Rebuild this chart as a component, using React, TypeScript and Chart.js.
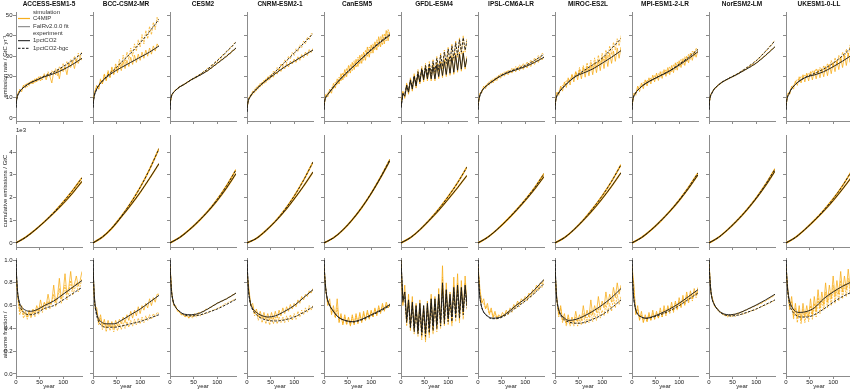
import React, { useEffect, useRef } from 'react';
import { Chart, registerables } from 'chart.js';
Chart.register(...registerables);

// ---------------- data ----------------
const MODELS = ['ACCESS-ESM1-5', 'BCC-CSM2-MR', 'CESM2', 'CNRM-ESM2-1', 'CanESM5', 'GFDL-ESM4', 'IPSL-CM6A-LR', 'MIROC-ES2L', 'MPI-ESM1-2-LR', 'NorESM2-LM', 'UKESM1-0-LL'];
const FIT_YEARS = [0, 1, 3, 6, 10, 20, 30, 45, 60, 80, 100, 120, 140];
const SIM_YEARS = [0, 4, 8, 12, 16, 20, 24, 28, 32, 36, 40, 44, 48, 52, 56, 60, 64, 68, 72, 76, 80, 84, 88, 92, 96, 100, 104, 108, 112, 116, 120, 124, 128, 132, 136, 140];
const CUM_YEARS = [0, 20, 40, 60, 80, 100, 120, 140];
const X_TICKS = [0, 50, 100];
const EMIS_TICKS = [0, 10, 20, 30, 40, 50];
const CUM_TICKS = [0, 1, 2, 3, 4];
const AF_TICKS = [0, 0.2, 0.4, 0.6, 0.8, 1.0];
const LEGEND_LABELS = ['simulation', 'C4MIP', 'FaIRv2.0.0 fit', 'experiment', '1pctCO2', '1pctCO2-bgc'];
const Y_TITLES = ['emission rate / GtC yr\u207B\u00B9', 'cumulative emissions / GtC', 'airborne fraction /\u2003\u2003\u2003\u2003\u2003\u2003'];

// GFDL-ESM4 fits are noisy, given on SIM_YEARS
const GFDL_EMIS_FIT_1PCT = [5, 12, 10.5, 15.5, 12.5, 18, 14, 20, 15.5, 21.5, 17.5, 23.3, 18.5, 24.3, 19, 24.3, 19, 24.8, 19, 25.8, 20.1, 26.4, 20.6, 27.4, 21.1, 28.4, 21.7, 29.4, 22.2, 30.4, 23.2, 31, 23.7, 31.5, 24.7, 29];
const GFDL_EMIS_FIT_BGC = [5, 11.5, 11.5, 16, 13.5, 18.5, 15, 20.5, 16.5, 22.5, 18, 24, 19.5, 25.5, 20.5, 26.5, 21.5, 27.5, 22.5, 29, 23.5, 30.5, 25, 32, 26.5, 33.5, 27.5, 35, 29, 36.5, 30.5, 38, 32, 39, 33, 37.5];
const GFDL_AF_FIT_1PCT = [1.0, 0.65, 0.72, 0.48, 0.65, 0.43, 0.63, 0.4, 0.6, 0.38, 0.62, 0.37, 0.6, 0.36, 0.62, 0.4, 0.66, 0.42, 0.66, 0.44, 0.7, 0.46, 0.8, 0.48, 0.74, 0.5, 0.7, 0.5, 0.76, 0.53, 0.78, 0.53, 0.76, 0.56, 0.78, 0.62];
const GFDL_AF_FIT_BGC = [1.0, 0.63, 0.68, 0.45, 0.62, 0.4, 0.6, 0.37, 0.57, 0.35, 0.58, 0.34, 0.56, 0.33, 0.58, 0.36, 0.62, 0.38, 0.62, 0.4, 0.66, 0.42, 0.74, 0.44, 0.7, 0.46, 0.66, 0.46, 0.72, 0.49, 0.74, 0.49, 0.72, 0.52, 0.74, 0.58];

const EMIS_FIT_1PCT = [
  [5, 8, 10.5, 12, 13.5, 15.5, 17, 18.5, 20, 21.5, 23.5, 26, 29],
  [5, 8, 11, 13, 15, 18, 20, 22.5, 24.5, 27, 29.5, 32, 35],
  [4, 8, 10.5, 12, 13, 15, 16.3, 18.5, 20.3, 23, 26.5, 30, 34],
  [3, 6, 8.5, 10, 11.5, 14, 16.2, 19, 21.5, 24.8, 27.5, 30.3, 33],
  [4, 7.5, 9.5, 10.8, 12, 15, 17.7, 21.3, 24.5, 28.8, 33, 36.8, 40.3],
  GFDL_EMIS_FIT_1PCT,
  [4, 7.5, 10, 12, 13.7, 16, 17.7, 20, 21.7, 23.3, 24.9, 27, 29.5],
  [4, 7.5, 10, 11.5, 12.9, 15.5, 17.7, 20.3, 21.8, 23.8, 26.6, 29.5, 32.7],
  [4, 7.5, 10, 11.5, 12.9, 15.2, 16.9, 18.8, 20.5, 22.8, 25.7, 28.8, 32.2],
  [4, 8, 10.5, 12, 13.7, 16, 17.7, 19.5, 21.2, 23.8, 26.6, 30.4, 34.6],
  [4, 7.5, 10, 11.5, 13.5, 16.3, 18.2, 20, 20.9, 22.5, 24.9, 27.6, 30.6],
];
const EMIS_FIT_BGC = [
  [5, 8, 10.5, 12, 13.5, 15.5, 17, 18.6, 20.3, 22.3, 25, 28, 31.5],
  [5, 8, 11, 13, 15, 18, 20.5, 23.5, 27, 31.5, 36.5, 42, 48],
  [4, 8, 10.5, 12, 13, 15, 16.3, 18.6, 20.6, 23.8, 27.8, 32.2, 36.8],
  [3, 6, 8.5, 10, 11.5, 14, 16.3, 19.3, 22.5, 27, 31.5, 36.2, 41],
  [4, 7.5, 9.5, 10.8, 12, 15, 17.7, 21.3, 24.6, 29, 33.3, 37.2, 40.8],
  GFDL_EMIS_FIT_BGC,
  [4, 7.5, 10, 12, 13.7, 16, 17.7, 20.1, 21.9, 23.7, 25.5, 28, 30.9],
  [4, 7.5, 10, 11.5, 12.9, 15.5, 17.8, 20.6, 22.8, 25.8, 29, 33.8, 38.6],
  [4, 7.5, 10, 11.5, 12.9, 15.2, 16.9, 18.8, 20.6, 23, 26.1, 29.5, 33.3],
  [4, 8, 10.5, 12, 13.7, 16, 17.7, 19.6, 21.4, 24.4, 27.8, 32.4, 37.5],
  [4, 7.5, 10, 11.5, 13.5, 16.3, 18.2, 20.2, 21.6, 23.8, 26.6, 30.3, 34.6],
];
const EMIS_SIM_1PCT = [
  [8, 12, 13.5, 13, 16, 14.5, 17, 15.8, 18, 16.5, 19, 17.5, 20, 18, 19.8, 21, 18.5, 21.5, 20, 17, 22.5, 21, 23.5, 19, 24.5, 22.5, 25, 21, 26.5, 24.5, 27.5, 24, 28.5, 26.5, 29.5, 28],
  [8, 13, 15.5, 14, 18.5, 16.5, 21, 18, 22.5, 19.5, 24, 21, 25, 22, 26.5, 23, 27.5, 24, 28, 25, 29.5, 26, 30.5, 27, 31, 28, 32, 29, 33, 30, 34, 31, 35, 32.5, 36, 34.5],
  [7, 11.5, 12.3, 13.8, 14, 15.4, 15.3, 16.4, 16.3, 17.6, 17.5, 18.8, 18.6, 19.8, 19.5, 20.8, 20.5, 21.9, 21.6, 22.9, 22.7, 24.2, 24, 25.6, 25.4, 27, 26.8, 28.4, 28.2, 29.8, 29.6, 31.3, 31.1, 32.9, 32.8, 34.2],
  [5, 10, 10.3, 13, 12.2, 15, 14.2, 16.8, 15.8, 18.3, 17.2, 20, 18.6, 21.2, 19.8, 22.5, 21.3, 23.8, 22.6, 25, 23.8, 26.4, 24.8, 27.6, 26.2, 28.6, 27, 29.7, 28, 30.8, 29.2, 32, 30.3, 33.2, 31.8, 33.8],
  [6, 11.5, 10.2, 14, 12, 16.8, 14.5, 19, 16.5, 21.5, 18.5, 23.5, 20, 25.5, 21.8, 27, 23.5, 28.5, 25, 30.5, 26.5, 32, 28, 34.5, 29.5, 35.5, 31.5, 37, 33, 39.5, 34.5, 40.5, 36, 42.5, 37.5, 42],
  [6, 13, 9.5, 16.5, 11.5, 19, 13, 21, 14.5, 22.5, 16.5, 24.3, 17.5, 25.3, 18, 25.3, 18, 25.8, 18, 26.8, 19.1, 27.4, 19.6, 28.4, 20.1, 29.4, 20.7, 30.4, 21.2, 31.4, 22.2, 32, 22.7, 32.5, 23.7, 30],
  [6, 12, 12.2, 15.5, 14.2, 16.8, 16, 18.5, 17, 19.5, 18.2, 20.8, 19.3, 21.8, 20.3, 22.6, 21, 23.2, 21.8, 24, 22.4, 24.6, 23, 25.3, 23.6, 25.8, 24.3, 26.5, 25, 27.6, 26, 28.5, 27, 29.4, 28.2, 30],
  [6, 12.5, 11, 15.5, 13, 17.5, 14.8, 19.5, 16, 21.2, 17.5, 22.5, 18.5, 23.5, 19, 24.5, 19.8, 25.2, 20.5, 26, 21, 27, 22, 28, 23, 29.5, 24, 30.5, 25, 31.5, 26.5, 32.5, 27.5, 34, 29, 34.5],
  [6, 12, 11, 15.5, 12.8, 17, 14.2, 18.5, 15.5, 19.5, 16.5, 20.8, 17.5, 21.8, 18.2, 22.5, 19.2, 23.5, 20.2, 24.5, 21, 25.5, 22, 26.8, 23.2, 27.8, 24.5, 28.8, 25.5, 30, 26.8, 31.5, 28, 32.5, 29.5, 33],
  [7, 11.8, 12.7, 14.6, 14.8, 16.4, 16.4, 17.8, 17.6, 18.7, 18.6, 19.8, 19.5, 20.7, 20.4, 21.6, 21.4, 22.6, 22.5, 23.7, 23.5, 24.8, 24.6, 25.9, 25.7, 27, 27.1, 28.5, 28.6, 30, 30.1, 31.6, 31.8, 33.3, 33.5, 34.8],
  [6, 12, 11.5, 15.5, 14, 18, 15.8, 20, 17, 21, 17.5, 21.8, 18, 22.5, 18.5, 23, 19, 23.5, 19.5, 24, 20, 25, 20.5, 26, 21.5, 27, 22.5, 28, 23.5, 29.5, 24.5, 30.5, 25.5, 31.5, 27, 32],
];
const EMIS_SIM_BGC = [
  [8, 11.5, 14, 12.8, 15.5, 16.5, 15, 17.5, 16.5, 18.5, 17, 19.5, 18, 20.5, 18.5, 21.5, 19.5, 22.5, 20, 23, 21.5, 24, 20.5, 25, 23, 26.5, 23.5, 27.5, 25, 28.5, 26.5, 30, 27, 31.5, 29.5, 32],
  [8, 12.5, 16, 14, 19, 16.5, 21.5, 18.5, 23, 20, 25, 21.5, 26.5, 23, 28.5, 25, 30.5, 26.5, 32, 28.5, 34, 30, 36, 32.5, 38, 34.5, 40.5, 36, 42.5, 38.5, 44.5, 40.5, 46.5, 43, 49, 46.5],
  [7, 11.2, 12.8, 13.3, 14.5, 14.8, 15.8, 15.7, 16.9, 16.9, 18.1, 18.2, 19.2, 19, 20.3, 20.3, 21.6, 21.5, 22.9, 22.8, 24.3, 24.2, 25.8, 25.6, 27.4, 27.3, 29, 28.9, 30.8, 30.8, 32.6, 32.7, 34.4, 34.6, 36.3, 36.9],
  [5, 9.2, 11.5, 11.3, 14, 13.2, 16, 15, 17.6, 16.5, 19.2, 18, 20.8, 19.6, 22.8, 21.5, 24.5, 23.2, 26.4, 25, 28.2, 26.8, 30, 28.6, 31.8, 30.4, 33.6, 32.2, 35.5, 34.2, 37.4, 36, 39.3, 38, 41, 40.6],
  [6, 10.8, 12.2, 12, 14.8, 14, 17.5, 16, 19.8, 17.8, 22, 19.5, 24.2, 21.5, 26, 23, 27.8, 24.5, 29.5, 26.2, 31, 28, 33, 29.8, 34.5, 31.5, 36, 33, 38, 34.5, 39.5, 35.5, 41, 37.5, 43, 39.5],
  [6, 12.5, 10.5, 17, 12.5, 19.5, 14, 21.5, 15.5, 23.5, 17, 25, 18.5, 26.5, 19.5, 27.5, 20.5, 28.5, 21.5, 30, 22.5, 31.5, 24, 33, 25.5, 34.5, 26.5, 36, 28, 37.5, 29.5, 39, 31, 40, 32, 38.5],
  [6, 11.5, 13.5, 14.2, 15.8, 15.5, 17.8, 16.8, 19, 18, 20.3, 19.2, 21.5, 20.2, 22.4, 21.3, 23.3, 22, 24.2, 22.8, 25, 23.6, 25.8, 24.3, 26.5, 25, 27.3, 25.8, 28.2, 26.8, 29.2, 28, 30.3, 29.2, 31.5, 30.8],
  [6, 11.8, 12.8, 14.5, 15.8, 16.2, 18, 18.5, 18.5, 20.8, 19.5, 22.5, 20.2, 24.5, 21, 25.5, 22, 26.8, 22.8, 28, 23.5, 29.2, 24.5, 30.5, 25.8, 31.5, 27.5, 33, 29, 35, 30.8, 36.8, 33, 38.5, 35, 40],
  [6, 11, 12.8, 14, 15.5, 15.2, 17.2, 16.2, 18.5, 17.2, 19.5, 18, 20.8, 19, 21.5, 19.8, 22.5, 20.8, 23.5, 21.5, 24.8, 22.5, 26, 23.5, 27.2, 24.8, 28.5, 26, 29.8, 27.2, 31, 28.5, 32.5, 30, 34, 32.5],
  [7, 11.3, 13.2, 14, 15.3, 15.8, 16.9, 17.2, 18.2, 18.2, 19.1, 19.2, 20.1, 20.1, 21.1, 21.1, 22.3, 22.2, 23.5, 23.3, 24.7, 24.5, 26.1, 25.8, 27.4, 27.5, 29, 29.1, 30.9, 31, 32.7, 32.9, 34.8, 35, 36.8, 37.6],
  [6, 11.3, 13.2, 14.5, 16, 17, 18.8, 18.5, 20.2, 19.5, 21, 20, 21.8, 20.5, 23, 20.8, 24, 21.2, 24.5, 21.8, 25.5, 22.5, 26.5, 23.5, 28, 24.5, 29.3, 25.5, 30.5, 27, 32, 28.5, 33.5, 30, 35.5, 33],
];
// cumulative emissions, thousands of GtC, on CUM_YEARS
const CUM_1PCT = [
  [0, 0.24, 0.56, 0.92, 1.31, 1.73, 2.19, 2.71],
  [0, 0.26, 0.64, 1.14, 1.66, 2.22, 2.84, 3.49],
  [0, 0.23, 0.56, 0.94, 1.37, 1.86, 2.42, 3.05],
  [0, 0.2, 0.54, 0.94, 1.4, 1.93, 2.5, 3.12],
  [0, 0.22, 0.57, 1.02, 1.55, 2.17, 2.87, 3.63],
  [0, 0.23, 0.58, 0.99, 1.43, 1.92, 2.43, 2.97],
  [0, 0.24, 0.58, 0.97, 1.4, 1.86, 2.36, 2.92],
  [0, 0.23, 0.58, 0.99, 1.44, 1.94, 2.49, 3.09],
  [0, 0.23, 0.56, 0.95, 1.38, 1.86, 2.4, 3.0],
  [0, 0.24, 0.59, 0.99, 1.44, 1.95, 2.52, 3.16],
  [0, 0.24, 0.59, 0.98, 1.4, 1.86, 2.37, 2.92],
];
const CUM_BGC = [
  [0, 0.24, 0.56, 0.93, 1.34, 1.8, 2.31, 2.87],
  [0, 0.26, 0.66, 1.17, 1.76, 2.44, 3.24, 4.15],
  [0, 0.23, 0.56, 0.95, 1.39, 1.91, 2.52, 3.22],
  [0, 0.2, 0.54, 0.95, 1.46, 2.06, 2.76, 3.56],
  [0, 0.22, 0.57, 1.02, 1.56, 2.18, 2.89, 3.68],
  [0, 0.23, 0.58, 1.01, 1.49, 2.04, 2.65, 3.34],
  [0, 0.24, 0.58, 0.98, 1.42, 1.9, 2.43, 3.05],
  [0, 0.23, 0.58, 1.01, 1.51, 2.07, 2.71, 3.44],
  [0, 0.23, 0.56, 0.95, 1.39, 1.89, 2.45, 3.08],
  [0, 0.24, 0.59, 1.0, 1.46, 1.98, 2.58, 3.26],
  [0, 0.24, 0.59, 0.99, 1.44, 1.94, 2.52, 3.19],
];
const AF_FIT_1PCT = [
  [1.0, 0.88, 0.74, 0.65, 0.6, 0.56, 0.55, 0.565, 0.6, 0.64, 0.7, 0.76, 0.82],
  [1.0, 0.85, 0.68, 0.57, 0.5, 0.45, 0.44, 0.44, 0.47, 0.52, 0.57, 0.63, 0.69],
  [1.0, 0.88, 0.74, 0.65, 0.6, 0.55, 0.525, 0.52, 0.53, 0.57, 0.62, 0.66, 0.71],
  [1.0, 0.9, 0.75, 0.65, 0.59, 0.54, 0.515, 0.5, 0.51, 0.55, 0.6, 0.67, 0.74],
  [1.0, 0.9, 0.78, 0.68, 0.62, 0.55, 0.5, 0.47, 0.46, 0.48, 0.52, 0.56, 0.61],
  GFDL_AF_FIT_1PCT,
  [1.0, 0.88, 0.72, 0.62, 0.56, 0.51, 0.49, 0.495, 0.53, 0.6, 0.66, 0.74, 0.83],
  [1.0, 0.87, 0.7, 0.6, 0.54, 0.49, 0.47, 0.48, 0.505, 0.55, 0.605, 0.67, 0.75],
  [1.0, 0.86, 0.7, 0.6, 0.54, 0.5, 0.49, 0.505, 0.53, 0.57, 0.62, 0.68, 0.74],
  [1.0, 0.9, 0.77, 0.67, 0.62, 0.56, 0.53, 0.52, 0.53, 0.565, 0.605, 0.65, 0.7],
  [1.0, 0.9, 0.77, 0.67, 0.61, 0.55, 0.54, 0.55, 0.58, 0.66, 0.72, 0.77, 0.81],
];
const AF_FIT_BGC = [
  [1.0, 0.88, 0.73, 0.64, 0.58, 0.53, 0.52, 0.535, 0.575, 0.6, 0.65, 0.705, 0.76],
  [1.0, 0.84, 0.66, 0.55, 0.48, 0.42, 0.41, 0.41, 0.42, 0.44, 0.46, 0.49, 0.52],
  [1.0, 0.88, 0.74, 0.65, 0.6, 0.55, 0.52, 0.51, 0.515, 0.54, 0.57, 0.61, 0.655],
  [1.0, 0.9, 0.74, 0.64, 0.58, 0.52, 0.49, 0.47, 0.465, 0.475, 0.5, 0.54, 0.59],
  [1.0, 0.9, 0.78, 0.68, 0.62, 0.55, 0.5, 0.468, 0.455, 0.475, 0.513, 0.553, 0.6],
  GFDL_AF_FIT_BGC,
  [1.0, 0.88, 0.72, 0.62, 0.56, 0.505, 0.485, 0.49, 0.52, 0.58, 0.64, 0.71, 0.795],
  [1.0, 0.87, 0.69, 0.59, 0.53, 0.475, 0.455, 0.445, 0.45, 0.48, 0.52, 0.58, 0.65],
  [1.0, 0.86, 0.7, 0.6, 0.54, 0.5, 0.488, 0.5, 0.52, 0.555, 0.6, 0.655, 0.71],
  [1.0, 0.9, 0.77, 0.67, 0.62, 0.555, 0.525, 0.51, 0.515, 0.54, 0.57, 0.61, 0.65],
  [1.0, 0.9, 0.76, 0.65, 0.58, 0.52, 0.5, 0.5, 0.52, 0.57, 0.63, 0.68, 0.72],
];
const AF_SIM_1PCT = [
  [0.9, 0.68, 0.55, 0.6, 0.52, 0.55, 0.5, 0.56, 0.51, 0.57, 0.53, 0.6, 0.55, 0.65, 0.57, 0.63, 0.6, 0.7, 0.61, 0.64, 0.78, 0.63, 0.68, 0.84, 0.66, 0.72, 0.88, 0.7, 0.76, 0.9, 0.74, 0.79, 0.86, 0.77, 0.82, 0.9],
  [0.9, 0.6, 0.58, 0.45, 0.52, 0.42, 0.48, 0.4, 0.47, 0.41, 0.46, 0.4, 0.47, 0.42, 0.48, 0.44, 0.5, 0.45, 0.52, 0.47, 0.55, 0.49, 0.56, 0.51, 0.59, 0.53, 0.6, 0.56, 0.62, 0.58, 0.66, 0.6, 0.67, 0.63, 0.7, 0.7],
  [0.95, 0.7, 0.6, 0.6, 0.55, 0.55, 0.52, 0.53, 0.5, 0.52, 0.49, 0.52, 0.5, 0.53, 0.51, 0.54, 0.53, 0.55, 0.545, 0.57, 0.565, 0.585, 0.585, 0.605, 0.605, 0.625, 0.625, 0.64, 0.64, 0.655, 0.655, 0.675, 0.675, 0.695, 0.695, 0.715],
  [0.9, 0.75, 0.6, 0.62, 0.53, 0.57, 0.5, 0.55, 0.49, 0.54, 0.48, 0.53, 0.47, 0.54, 0.48, 0.55, 0.49, 0.56, 0.51, 0.58, 0.53, 0.59, 0.55, 0.61, 0.57, 0.62, 0.59, 0.65, 0.62, 0.68, 0.65, 0.7, 0.68, 0.73, 0.71, 0.75],
  [0.95, 0.74, 0.6, 0.66, 0.52, 0.6, 0.5, 0.66, 0.45, 0.53, 0.43, 0.52, 0.44, 0.5, 0.42, 0.52, 0.43, 0.53, 0.44, 0.54, 0.45, 0.55, 0.47, 0.56, 0.48, 0.56, 0.5, 0.58, 0.51, 0.6, 0.53, 0.62, 0.55, 0.63, 0.58, 0.62],
  [1.0, 0.6, 0.78, 0.45, 0.7, 0.4, 0.68, 0.38, 0.62, 0.36, 0.65, 0.33, 0.6, 0.3, 0.64, 0.35, 0.7, 0.38, 0.68, 0.4, 0.75, 0.42, 0.95, 0.44, 0.8, 0.46, 0.72, 0.45, 0.85, 0.5, 0.88, 0.48, 0.82, 0.52, 0.86, 0.6],
  [0.95, 0.75, 0.62, 0.66, 0.57, 0.62, 0.53, 0.58, 0.5, 0.55, 0.49, 0.52, 0.5, 0.54, 0.51, 0.56, 0.53, 0.58, 0.56, 0.61, 0.59, 0.64, 0.61, 0.66, 0.64, 0.68, 0.66, 0.71, 0.69, 0.74, 0.72, 0.78, 0.75, 0.8, 0.79, 0.83],
  [0.9, 0.66, 0.52, 0.6, 0.47, 0.53, 0.44, 0.52, 0.44, 0.5, 0.45, 0.55, 0.46, 0.52, 0.47, 0.6, 0.49, 0.56, 0.5, 0.65, 0.52, 0.6, 0.54, 0.68, 0.56, 0.64, 0.58, 0.72, 0.61, 0.7, 0.63, 0.76, 0.67, 0.8, 0.7, 0.78],
  [0.95, 0.78, 0.52, 0.6, 0.47, 0.55, 0.45, 0.52, 0.46, 0.54, 0.47, 0.56, 0.48, 0.55, 0.49, 0.58, 0.5, 0.6, 0.52, 0.6, 0.54, 0.63, 0.55, 0.64, 0.57, 0.67, 0.59, 0.69, 0.61, 0.72, 0.64, 0.73, 0.66, 0.75, 0.69, 0.76],
  [0.98, 0.72, 0.65, 0.6, 0.58, 0.56, 0.54, 0.535, 0.52, 0.52, 0.51, 0.52, 0.51, 0.525, 0.52, 0.535, 0.53, 0.545, 0.545, 0.56, 0.56, 0.575, 0.575, 0.59, 0.59, 0.605, 0.605, 0.62, 0.62, 0.64, 0.64, 0.655, 0.66, 0.675, 0.68, 0.7],
  [0.95, 0.74, 0.58, 0.68, 0.5, 0.62, 0.49, 0.6, 0.47, 0.62, 0.5, 0.6, 0.5, 0.66, 0.52, 0.68, 0.55, 0.74, 0.58, 0.72, 0.61, 0.8, 0.63, 0.78, 0.66, 0.86, 0.68, 0.82, 0.7, 0.9, 0.72, 0.86, 0.74, 0.92, 0.76, 0.86],
];
const AF_SIM_BGC = [
  [0.85, 0.66, 0.52, 0.57, 0.49, 0.53, 0.48, 0.54, 0.49, 0.55, 0.5, 0.57, 0.52, 0.6, 0.54, 0.62, 0.56, 0.64, 0.57, 0.63, 0.7, 0.59, 0.66, 0.75, 0.62, 0.68, 0.78, 0.65, 0.71, 0.82, 0.69, 0.74, 0.8, 0.72, 0.77, 0.84],
  [0.85, 0.58, 0.55, 0.43, 0.49, 0.39, 0.45, 0.37, 0.44, 0.38, 0.43, 0.37, 0.43, 0.38, 0.44, 0.39, 0.45, 0.4, 0.46, 0.41, 0.47, 0.42, 0.48, 0.43, 0.49, 0.44, 0.5, 0.45, 0.51, 0.47, 0.52, 0.48, 0.53, 0.5, 0.54, 0.53],
  [0.95, 0.69, 0.61, 0.58, 0.56, 0.54, 0.52, 0.52, 0.5, 0.51, 0.49, 0.51, 0.49, 0.515, 0.5, 0.52, 0.51, 0.525, 0.52, 0.54, 0.535, 0.55, 0.55, 0.565, 0.565, 0.575, 0.58, 0.595, 0.6, 0.615, 0.615, 0.63, 0.635, 0.645, 0.65, 0.66],
  [0.88, 0.73, 0.59, 0.6, 0.51, 0.55, 0.47, 0.52, 0.45, 0.51, 0.44, 0.5, 0.43, 0.5, 0.44, 0.5, 0.44, 0.5, 0.45, 0.5, 0.45, 0.51, 0.46, 0.52, 0.47, 0.53, 0.48, 0.55, 0.5, 0.56, 0.52, 0.58, 0.54, 0.6, 0.56, 0.6],
  [0.93, 0.72, 0.62, 0.62, 0.54, 0.57, 0.49, 0.58, 0.46, 0.51, 0.44, 0.5, 0.43, 0.49, 0.43, 0.5, 0.44, 0.51, 0.45, 0.52, 0.46, 0.53, 0.47, 0.54, 0.49, 0.55, 0.5, 0.57, 0.52, 0.58, 0.54, 0.6, 0.56, 0.61, 0.58, 0.61],
  [0.95, 0.62, 0.72, 0.42, 0.66, 0.38, 0.64, 0.35, 0.6, 0.33, 0.62, 0.3, 0.58, 0.28, 0.6, 0.32, 0.66, 0.35, 0.64, 0.37, 0.7, 0.4, 0.85, 0.42, 0.74, 0.43, 0.68, 0.42, 0.78, 0.46, 0.8, 0.45, 0.76, 0.48, 0.8, 0.56],
  [0.93, 0.72, 0.64, 0.62, 0.58, 0.59, 0.52, 0.56, 0.49, 0.53, 0.48, 0.51, 0.49, 0.52, 0.5, 0.54, 0.52, 0.56, 0.54, 0.59, 0.57, 0.62, 0.59, 0.64, 0.62, 0.66, 0.64, 0.69, 0.67, 0.72, 0.7, 0.75, 0.73, 0.77, 0.76, 0.8],
  [0.88, 0.64, 0.5, 0.58, 0.45, 0.5, 0.42, 0.49, 0.42, 0.47, 0.42, 0.5, 0.42, 0.48, 0.43, 0.53, 0.44, 0.5, 0.45, 0.56, 0.46, 0.53, 0.47, 0.58, 0.49, 0.56, 0.51, 0.62, 0.53, 0.62, 0.55, 0.67, 0.58, 0.7, 0.61, 0.68],
  [0.92, 0.74, 0.54, 0.57, 0.48, 0.52, 0.46, 0.5, 0.46, 0.52, 0.47, 0.53, 0.48, 0.53, 0.49, 0.55, 0.5, 0.57, 0.51, 0.58, 0.53, 0.6, 0.54, 0.62, 0.56, 0.64, 0.58, 0.66, 0.6, 0.69, 0.62, 0.7, 0.64, 0.72, 0.67, 0.73],
  [0.97, 0.71, 0.65, 0.59, 0.58, 0.55, 0.54, 0.525, 0.515, 0.51, 0.5, 0.51, 0.5, 0.515, 0.505, 0.52, 0.515, 0.525, 0.525, 0.535, 0.535, 0.545, 0.55, 0.56, 0.56, 0.57, 0.575, 0.585, 0.59, 0.6, 0.605, 0.615, 0.62, 0.63, 0.64, 0.65],
  [0.92, 0.7, 0.56, 0.64, 0.48, 0.58, 0.45, 0.56, 0.44, 0.57, 0.45, 0.55, 0.46, 0.6, 0.48, 0.62, 0.5, 0.67, 0.53, 0.66, 0.56, 0.72, 0.58, 0.71, 0.6, 0.78, 0.62, 0.75, 0.64, 0.82, 0.66, 0.79, 0.68, 0.84, 0.7, 0.78],
];

// ---------------- styling / layout ----------------
const FONT = 'Liberation Sans';
const ORANGE = 'rgba(247,170,18,0.95)';
const FIT_COLOR = 'rgba(25,25,25,0.92)';
const LEGEND_FIT_COLOR = '#7a7a7a';
const AXIS = '#8c8c8c';
const TEXT = '#222';
const COL_LEFT0 = 16;
const COL_STEP = 77;
const PLOT_W = 66;
const PAD_R = 3;
const ROW_GEOM = [
  { top: 12, bottom: 121, canvasTop: 0, xH: 5, min: -1.5, max: 51.5 },
  { top: 135, bottom: 247, canvasTop: 125, xH: 5, min: -0.18, max: 4.75 },
  { top: 258, bottom: 376, canvasTop: 253, xH: 13, min: -0.018, max: 1.018 },
];
const ROW_TICKS = [EMIS_TICKS, CUM_TICKS, AF_TICKS];

function pts(xs: number[], ys: number[]) {
  return ys.map((y, i) => ({ x: xs[i], y }));
}
function xsFor(vals: number[]) {
  return vals.length === SIM_YEARS.length ? SIM_YEARS : FIT_YEARS;
}

function buildDatasets(row: number, col: number) {
  let f1: number[], fb: number[], s1: number[], sb: number[], fx1: number[], fxb: number[], sx: number[];
  if (row === 0) {
    f1 = EMIS_FIT_1PCT[col]; fb = EMIS_FIT_BGC[col]; s1 = EMIS_SIM_1PCT[col]; sb = EMIS_SIM_BGC[col];
    fx1 = xsFor(f1); fxb = xsFor(fb); sx = SIM_YEARS;
  } else if (row === 1) {
    f1 = CUM_1PCT[col]; fb = CUM_BGC[col]; s1 = CUM_1PCT[col]; sb = CUM_BGC[col];
    fx1 = CUM_YEARS; fxb = CUM_YEARS; sx = CUM_YEARS;
  } else {
    f1 = AF_FIT_1PCT[col]; fb = AF_FIT_BGC[col]; s1 = AF_SIM_1PCT[col]; sb = AF_SIM_BGC[col];
    fx1 = xsFor(f1); fxb = xsFor(fb); sx = SIM_YEARS;
  }
  const smooth = (xs: number[]) => xs !== SIM_YEARS;
  const simSmooth = row === 1;
  return [
    { data: pts(fx1, f1), borderColor: FIT_COLOR, borderWidth: 1, cubicInterpolationMode: smooth(fx1) ? 'monotone' : 'default', tension: 0 },
    { data: pts(fxb, fb), borderColor: FIT_COLOR, borderWidth: 1, borderDash: [2.5, 1.5], cubicInterpolationMode: smooth(fxb) ? 'monotone' : 'default', tension: 0 },
    { data: pts(sx, s1), borderColor: ORANGE, borderWidth: simSmooth ? 1.6 : 0.8, cubicInterpolationMode: simSmooth ? 'monotone' : 'default', tension: 0 },
    { data: pts(sx, sb), borderColor: ORANGE, borderWidth: simSmooth ? 1.6 : 0.8, borderDash: simSmooth ? [] : [2, 1], cubicInterpolationMode: simSmooth ? 'monotone' : 'default', tension: 0 },
  ];
}

const legendPlugin = {
  id: 'panelLegend',
  afterDraw(chart: any) {
    const ctx = chart.ctx;
    const a = chart.chartArea;
    const ys = [0.8, 6.5, 14.7, 21.3, 28.7, 36.3];
    ctx.save();
    ctx.font = `6px "${FONT}"`;
    ctx.textBaseline = 'middle';
    ctx.fillStyle = '#333';
    LEGEND_LABELS.forEach((label, i) => {
      const y = a.top + ys[i];
      const x0 = a.left + 2;
      const x1 = a.left + 14;
      if (i === 1 || i === 2 || i === 4 || i === 5) {
        ctx.beginPath();
        ctx.lineWidth = i === 1 ? 1.2 : 1;
        ctx.strokeStyle = i === 1 ? ORANGE : i === 2 ? LEGEND_FIT_COLOR : '#111';
        ctx.setLineDash(i === 5 ? [2.5, 1.5] : []);
        ctx.moveTo(x0, y);
        ctx.lineTo(x1, y);
        ctx.stroke();
      }
      ctx.fillText(label, a.left + 17, y);
    });
    ctx.restore();
  },
};

const offsetTextPlugin = {
  id: 'offsetText',
  afterDraw(chart: any) {
    const ctx = chart.ctx;
    const a = chart.chartArea;
    ctx.save();
    ctx.font = `6px "${FONT}"`;
    ctx.textBaseline = 'middle';
    ctx.fillStyle = TEXT;
    ctx.fillText('1e3', a.left, a.top - 5);
    ctx.restore();
  },
};

function Panel({ row, col }: { row: number; col: number }) {
  const ref = useRef<HTMLCanvasElement>(null);
  const g = ROW_GEOM[row];
  const yW = col === 0 ? 16 : 6;
  const left = COL_LEFT0 + COL_STEP * col - yW;
  const width = yW + PLOT_W + PAD_R;
  const top = g.canvasTop;
  const height = g.bottom + g.xH - g.canvasTop;

  useEffect(() => {
    if (!ref.current) return;
    const tickFont = { family: FONT, size: 6 };
    const yTicks = ROW_TICKS[row];
    const plugins: any[] = [];
    if (row === 0 && col === 0) plugins.push(legendPlugin);
    if (row === 1 && col === 0) plugins.push(offsetTextPlugin);
    const chart = new Chart(ref.current, {
      type: 'line',
      data: { datasets: buildDatasets(row, col) as any },
      plugins,
      options: {
        animation: false,
        responsive: false,
        maintainAspectRatio: false,
        events: [],
        layout: { padding: { top: row === 0 ? 0 : g.top - g.canvasTop, right: PAD_R, bottom: 0, left: 0 }, autoPadding: false } as any,
        elements: { point: { radius: 0 }, line: { borderCapStyle: 'butt', borderJoinStyle: 'round' } },
        plugins: {
          legend: { display: false },
          tooltip: { enabled: false },
          title: row === 0
            ? { display: true, text: MODELS[col], color: '#111', font: { family: FONT, size: 6.5, weight: 'bold' }, padding: { top: 0, bottom: 4.2 }, fullSize: false }
            : { display: false },
        },
        scales: {
          x: {
            type: 'linear',
            min: 0,
            max: 140,
            afterBuildTicks: (s: any) => { s.ticks = X_TICKS.map((v) => ({ value: v })); },
            afterFit: (s: any) => { s.height = g.xH; },
            ticks: {
              display: row === 2,
              font: tickFont,
              color: TEXT,
              padding: 0,
              maxRotation: 0,
              autoSkip: false,
              callback: (v: any) => String(v),
            },
            grid: { display: true, drawOnChartArea: false, drawTicks: true, tickLength: 3, color: AXIS, lineWidth: 1 },
            border: { display: true, color: AXIS, width: 1 },
            title: { display: row === 2, text: 'year', color: TEXT, font: { family: FONT, size: 6, lineHeight: 1 }, padding: 0 },
          },
          y: {
            type: 'linear',
            min: g.min,
            max: g.max,
            afterBuildTicks: (s: any) => { s.ticks = yTicks.map((v) => ({ value: v })); },
            afterFit: (s: any) => { s.width = yW; },
            ticks: {
              display: col === 0,
              font: tickFont,
              color: TEXT,
              padding: 0.5,
              autoSkip: false,
              callback: (v: any) => (row === 2 ? Number(v).toFixed(1) : String(v)),
            },
            grid: { display: true, drawOnChartArea: false, drawTicks: true, tickLength: 3, color: AXIS, lineWidth: 1 },
            border: { display: true, color: AXIS, width: 1 },
            title: { display: col === 0, text: Y_TITLES[row], color: TEXT, font: { family: FONT, size: 6 }, padding: { top: 2, bottom: 0 } },
          },
        },
      } as any,
    });
    return () => chart.destroy();
  }, [row, col]);

  return (
    <canvas
      ref={ref}
      width={width}
      height={height}
      style={{ position: 'absolute', left, top, width, height, display: 'block' }}
    />
  );
}

export default function App() {
  const cells: React.ReactElement[] = [];
  for (let r = 0; r < 3; r++) {
    for (let c = 0; c < MODELS.length; c++) {
      cells.push(<Panel key={`${r}-${c}`} row={r} col={c} />);
    }
  }
  return (
    <div style={{ position: 'absolute', left: 0, top: 0, width: 850, height: 389, background: '#fff', overflow: 'hidden' }}>
      {cells}
    </div>
  );
}
